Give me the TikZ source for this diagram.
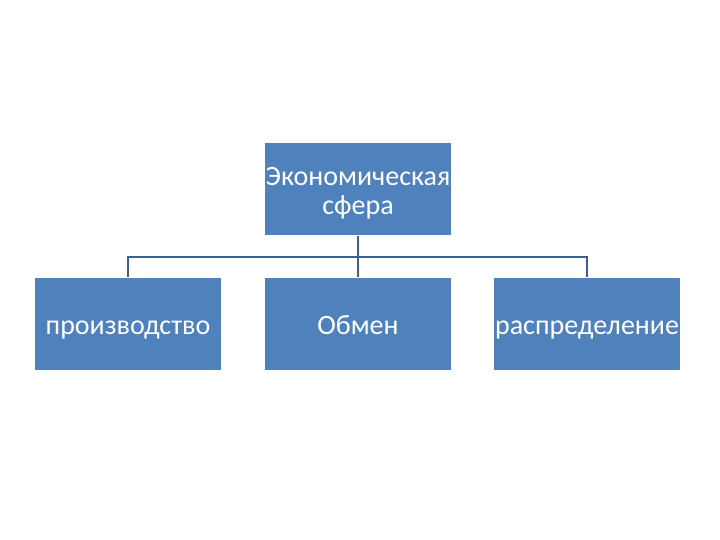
\documentclass[tikz,border=0pt]{standalone}
\usepackage{fontspec}
\setmainfont{Carlito}
\definecolor{boxblue}{HTML}{4F81BD}
\definecolor{linkblue}{HTML}{3C5F8E}
\begin{document}
\begin{tikzpicture}[x=1pt,y=-1pt,
  box/.style={fill=boxblue,draw=white,line width=0.8pt,minimum width=187pt,minimum height=93pt,inner sep=0pt,
    text=white,font=\fontsize{28}{30}\selectfont,align=center},
  lbl/.style={text=white,font=\fontsize{28}{30}\selectfont,align=center,inner sep=0pt},
  link/.style={draw=linkblue,line width=2pt}]
\useasboundingbox (0,0) rectangle (720,540);
\node[box] (top) at (358,189) {};
\node[lbl] (toptext) at (358,193) {Экономическая\\[-1pt]сфера};
\node[box,text height=23pt,text depth=2pt] (a) at (128,324) {производство};
\node[box,text height=23pt,text depth=2pt] (b) at (358,324) {Обмен};
\node[box,text height=23pt,text depth=2pt] (c) at (587,324) {распределение};
\coordinate (j) at (358,257);
\draw[link] (top.south) -- (j) -- (b.north);
\draw[link] (a.north) -- (a.north |- j) -- (c.north |- j) -- (c.north);
\end{tikzpicture}
\end{document}
